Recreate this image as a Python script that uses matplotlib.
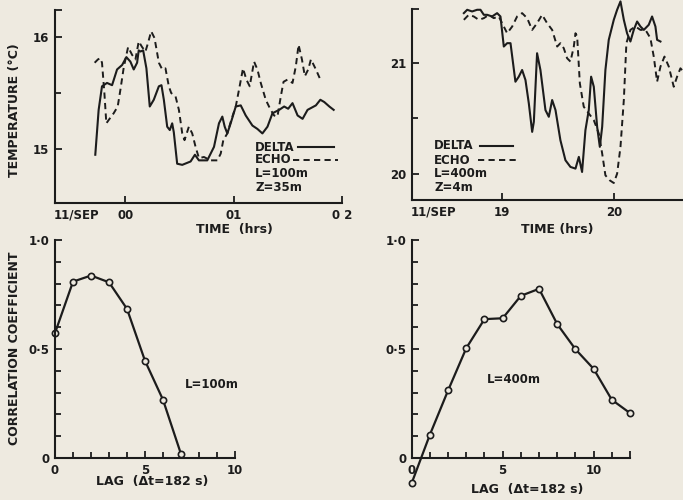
import matplotlib
matplotlib.use("Agg")
import matplotlib.pyplot as plt
from matplotlib.ticker import FixedLocator, MultipleLocator

BG = "#EEEAE0"
INK = "#1c1c1c"
plt.rcParams['font.family'] = ['DejaVu Sans']
plt.rcParams['font.weight'] = 'bold'

# ---------------- data ----------------
# Top-left: L=100m, Z=35m  (time in hours after 00 on 11/SEP)
delta1_t = [-0.278, -0.247, -0.216, -0.17, -0.123, -0.077, -0.03, 0.009, 0.046, 0.077, 0.108, 0.123, 0.139,
            0.164, 0.194, 0.225, 0.262, 0.309, 0.333, 0.355, 0.386, 0.41, 0.432, 0.447, 0.478, 0.525, 0.602,
            0.642, 0.679, 0.756, 0.818, 0.864, 0.895, 0.917, 0.941, 0.972, 1.019, 1.065, 1.111, 1.173, 1.219,
            1.265, 1.312, 1.358, 1.42, 1.466, 1.503, 1.543, 1.59, 1.636, 1.682, 1.759, 1.80, 1.836, 1.883, 1.923]
delta1_T = [14.95, 15.35, 15.56, 15.59, 15.57, 15.71, 15.75, 15.82, 15.78, 15.71, 15.77, 15.88, 15.87,
            15.88, 15.72, 15.38, 15.44, 15.56, 15.57, 15.44, 15.20, 15.17, 15.23, 15.15, 14.87, 14.86, 14.89,
            14.95, 14.90, 14.90, 15.02, 15.23, 15.29, 15.20, 15.14, 15.23, 15.38, 15.39, 15.30, 15.21, 15.18,
            15.14, 15.20, 15.32, 15.35, 15.38, 15.36, 15.41, 15.30, 15.27, 15.35, 15.39, 15.44, 15.42, 15.38, 15.35]
echo1_t = [-0.284, -0.253, -0.231, -0.216, -0.194, -0.176, -0.154, -0.108, -0.071, -0.046, -0.015, 0.025,
           0.062, 0.093, 0.123, 0.154, 0.185, 0.207, 0.238, 0.269, 0.309, 0.34, 0.37, 0.401, 0.423, 0.463,
           0.494, 0.525, 0.546, 0.586, 0.617, 0.648, 0.679, 0.725, 0.787, 0.849, 0.88, 0.904, 0.941, 0.981,
           1.019, 1.049, 1.086, 1.117, 1.148, 1.188, 1.219, 1.25, 1.296, 1.336, 1.373, 1.404, 1.435, 1.46,
           1.497, 1.543, 1.574, 1.599, 1.63, 1.657, 1.688, 1.713, 1.759, 1.80]
echo1_T = [15.77, 15.80, 15.81, 15.77, 15.50, 15.23, 15.26, 15.32, 15.38, 15.53, 15.73, 15.91,
           15.84, 15.80, 15.96, 15.91, 15.87, 15.94, 16.05, 15.99, 15.77, 15.71, 15.72, 15.56, 15.50, 15.47,
           15.35, 15.14, 15.08, 15.20, 15.14, 15.02, 14.92, 14.93, 14.90, 14.90, 14.96, 15.08, 15.14, 15.27,
           15.38, 15.53, 15.72, 15.62, 15.56, 15.78, 15.71, 15.59, 15.44, 15.36, 15.30, 15.29, 15.47, 15.60,
           15.62, 15.59, 15.74, 15.93, 15.80, 15.65, 15.71, 15.80, 15.71, 15.62]

# Top-right: L=400m, Z=4m  (time in hours, 11/SEP)
delta2_t = [18.657, 18.687, 18.731, 18.776, 18.806, 18.836, 18.866, 18.910, 18.955, 18.985, 19.015, 19.045,
            19.075, 19.119, 19.149, 19.179, 19.209, 19.239, 19.269, 19.284, 19.313, 19.343, 19.388, 19.418,
            19.448, 19.478, 19.522, 19.567, 19.612, 19.657, 19.687, 19.716, 19.746, 19.776, 19.797, 19.821,
            19.851, 19.875, 19.896, 19.925, 19.955, 20.0, 20.03, 20.06, 20.09, 20.119, 20.149, 20.179, 20.209,
            20.239, 20.269, 20.313, 20.343, 20.373, 20.388, 20.418]
delta2_T = [21.443, 21.473, 21.458, 21.473, 21.473, 21.428, 21.428, 21.413, 21.443, 21.413, 21.144, 21.174,
            21.174, 20.829, 20.874, 20.934, 20.844, 20.635, 20.380, 20.47, 21.084, 20.934, 20.575, 20.515,
            20.665, 20.575, 20.305, 20.126, 20.066, 20.051, 20.156, 20.021, 20.395, 20.575, 20.874, 20.784,
            20.425, 20.246, 20.425, 20.934, 21.204, 21.383, 21.473, 21.548, 21.383, 21.263, 21.189, 21.293,
            21.368, 21.323, 21.293, 21.338, 21.413, 21.323, 21.204, 21.189]
echo2_t = [18.657, 18.701, 18.746, 18.791, 18.836, 18.881, 18.925, 18.970, 19.015, 19.045, 19.090, 19.134,
           19.179, 19.224, 19.269, 19.313, 19.358, 19.403, 19.448, 19.493, 19.522, 19.552, 19.582, 19.612,
           19.642, 19.657, 19.672, 19.696, 19.731, 19.776, 19.821, 19.866, 19.896, 19.925, 19.964, 20.0,
           20.03, 20.06, 20.09, 20.113, 20.149, 20.194, 20.239, 20.284, 20.328, 20.358, 20.388, 20.418,
           20.454, 20.493, 20.537, 20.567, 20.597, 20.624]
echo2_T = [21.383, 21.428, 21.413, 21.383, 21.398, 21.428, 21.398, 21.413, 21.323, 21.263, 21.323, 21.413,
           21.443, 21.398, 21.293, 21.353, 21.428, 21.353, 21.293, 21.144, 21.174, 21.129, 21.039, 21.009,
           21.144, 21.263, 21.234, 20.814, 20.605, 20.545, 20.485, 20.365, 20.186, 19.991, 19.946, 19.922,
           20.006, 20.246, 20.665, 21.174, 21.293, 21.323, 21.293, 21.293, 21.219, 21.054, 20.829, 20.964,
           21.054, 20.964, 20.784, 20.874, 20.949, 20.919]

# Bottom: correlation coefficient vs lag
lag1 = [0, 1, 2, 3, 4, 5, 6, 7]
corr1 = [0.573, 0.809, 0.837, 0.806, 0.684, 0.446, 0.267, 0.018]
lag2 = [0, 1, 2, 3, 4, 5, 6, 7, 8, 9, 10, 11, 12]
corr2 = [-0.115, 0.107, 0.310, 0.504, 0.637, 0.641, 0.744, 0.776, 0.614, 0.499, 0.409, 0.267, 0.206]

FS = 8.5
W, H = 683, 500


def ax_at(l, t, r, b):
    return fig.add_axes([l / W, 1 - b / H, (r - l) / W, (b - t) / H])


def style(ax):
    ax.set_facecolor(BG)
    for s in ("top", "right"):
        ax.spines[s].set_visible(False)
    for s in ("left", "bottom"):
        ax.spines[s].set_linewidth(1.5)
        ax.spines[s].set_color(INK)
    ax.tick_params(which="both", direction="in", color=INK, width=1.3, labelsize=FS,
                   labelcolor=INK, pad=4)
    ax.tick_params(which="major", length=5)
    ax.tick_params(which="minor", length=4)


fig = plt.figure(figsize=(W / 100, H / 100), dpi=100)
fig.patch.set_facecolor(BG)

# ---------- top-left ----------
ax1 = ax_at(55, 10, 342, 203)
style(ax1)
ax1.plot(delta1_t, delta1_T, color=INK, lw=1.5)
ax1.plot(echo1_t, echo1_T, color=INK, lw=1.4, dashes=(3.2, 2.2))
ax1.set_xlim(-0.65, 2.0)
ax1.set_ylim(14.52, 16.24)
ax1.set_yticks([15, 16, 16.24], ["15", "16", ""])
ax1.yaxis.set_minor_locator(FixedLocator([15.5]))
ax1.set_xticks([-0.454, 0, 1, 2], ["11/SEP", "00", "01", "0 2"])
ax1.xaxis.get_major_ticks()[0].tick1line.set_visible(False)
ax1.text(0.697, 0.29, "DELTA", transform=ax1.transAxes, fontsize=FS, color=INK, va="center")
ax1.plot([0.845, 0.972], [0.29, 0.29], transform=ax1.transAxes, color=INK, lw=1.5)
ax1.text(0.697, 0.223, "ECHO", transform=ax1.transAxes, fontsize=FS, color=INK, va="center")
ax1.plot([0.83, 0.985], [0.223, 0.223], transform=ax1.transAxes, color=INK, lw=1.4, dashes=(3.2, 2.2))
ax1.text(0.697, 0.155, "L=100m", transform=ax1.transAxes, fontsize=FS, color=INK, va="center")
ax1.text(0.697, 0.078, "Z=35m", transform=ax1.transAxes, fontsize=FS, color=INK, va="center")

# ---------- top-right ----------
ax2 = ax_at(411.7, 9, 683, 200)
style(ax2)
ax2.plot(delta2_t, delta2_T, color=INK, lw=1.5, clip_on=False)
ax2.plot(echo2_t, echo2_T, color=INK, lw=1.4, dashes=(3.2, 2.2), clip_on=False)
ax2.set_xlim(18.19, 20.62)
ax2.set_ylim(19.77, 21.48)
ax2.set_yticks([20, 21, 21.48], ["20", "21", ""])
ax2.yaxis.set_minor_locator(FixedLocator([20.5]))
ax2.set_xticks([18.385, 19, 20], ["11/SEP", "19", "20"])
ax2.xaxis.get_major_ticks()[0].tick1line.set_visible(False)
ax2.text(0.083, 0.283, "DELTA", transform=ax2.transAxes, fontsize=FS, color=INK, va="center")
ax2.plot([0.252, 0.375], [0.283, 0.283], transform=ax2.transAxes, color=INK, lw=1.5)
ax2.text(0.083, 0.209, "ECHO", transform=ax2.transAxes, fontsize=FS, color=INK, va="center")
ax2.plot([0.245, 0.387], [0.209, 0.209], transform=ax2.transAxes, color=INK, lw=1.4, dashes=(3.2, 2.2))
ax2.text(0.083, 0.14, "L=400m", transform=ax2.transAxes, fontsize=FS, color=INK, va="center")
ax2.text(0.083, 0.064, "Z=4m", transform=ax2.transAxes, fontsize=FS, color=INK, va="center")

# ---------- bottom-left ----------
ax3 = ax_at(55, 240, 235, 458)
style(ax3)
ax3.plot(lag1, corr1, color=INK, lw=1.6, marker="o", ms=4.5, mfc=BG, mec=INK, mew=1.2, clip_on=False)
ax3.set_xlim(0, 10)
ax3.set_ylim(0, 1)
ax3.set_xticks([0, 5, 10], ["0", "5", "10"])
ax3.xaxis.set_minor_locator(MultipleLocator(1))
ax3.set_yticks([0, 0.5, 1.0], ["0", "0·5", "1·0"])
ax3.yaxis.set_minor_locator(MultipleLocator(0.1))
ax3.text(0.722, 0.335, "L=100m", transform=ax3.transAxes, fontsize=FS, color=INK, va="center")

# ---------- bottom-right ----------
ax4 = ax_at(411.7, 240, 630, 458)
style(ax4)
ax4.plot(lag2, corr2, color=INK, lw=1.6, marker="o", ms=4.5, mfc=BG, mec=INK, mew=1.2, clip_on=False)
ax4.set_xlim(0, 12)
ax4.set_ylim(0, 1)
ax4.set_xticks([0, 5, 10, 12], ["0", "5", "10", ""])
ax4.xaxis.set_minor_locator(MultipleLocator(1))
ax4.set_yticks([0, 0.5, 1.0], ["0", "0·5", "1·0"])
ax4.yaxis.set_minor_locator(MultipleLocator(0.1))
ax4.text(0.345, 0.358, "L=400m", transform=ax4.transAxes, fontsize=FS, color=INK, va="center")

# ---------- axis labels (figure text) ----------
def ftext(px, py, s, **kw):
    fig.text(px / W, 1 - py / H, s, color=INK, ha="center", va="center", fontsize=9, **kw)

ftext(15, 110, "TEMPERATURE (°C)", rotation=90)
ftext(15, 348, "CORRELATION COEFFICIENT", rotation=90)
ftext(234, 230, "TIME  (hrs)")
ftext(557, 230, "TIME (hrs)")
ftext(152, 482, "LAG  (Δt=182 s)")
ftext(527, 490, "LAG  (Δt=182 s)")

fig.savefig("out.png", dpi=100, facecolor=BG)
